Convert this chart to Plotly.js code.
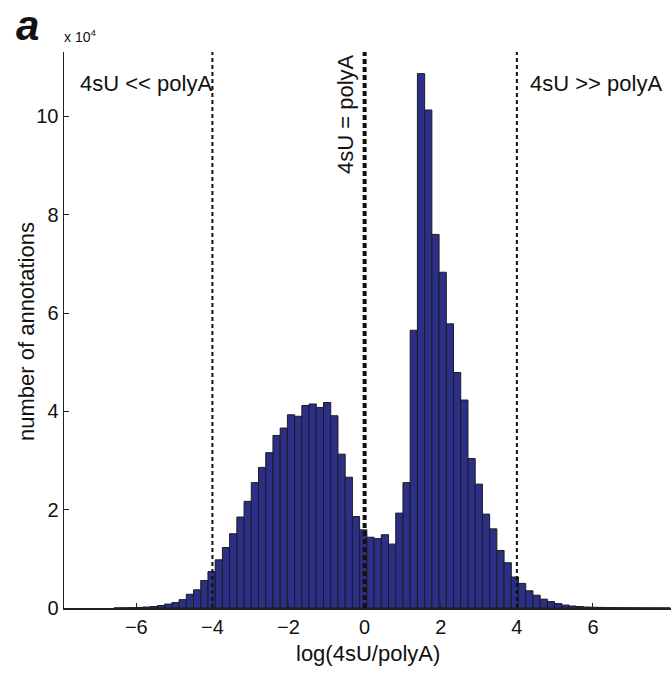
<!DOCTYPE html>
<html>
<head>
<meta charset="utf-8">
<script src="https://cdn.plot.ly/plotly-3.0.1.min.js"></script>
<style>html,body{margin:0;padding:0;background:#fff;}#chart{width:671px;height:673px;}</style>
</head>
<body>
<div id="chart"></div>
<script>
// Histogram of log(4sU/polyA); counts in units of 10^4
const firstBinCenter = -6.4895;
const binWidth = 0.18978;
const countsE4 = [
  0.002, 0.004, 0.007, 0.012, 0.02, 0.03, 0.05, 0.08, 0.11, 0.17, 0.28, 0.37, 0.56, 0.74, 0.98, 1.23,
  1.51, 1.85, 2.17, 2.55, 2.86, 3.16, 3.51, 3.66, 3.93, 3.90, 4.12, 4.15, 4.08, 4.18, 3.91, 3.13,
  2.66, 1.86, 1.59, 1.44, 1.41, 1.49, 1.30, 1.93, 2.55, 5.65, 10.87, 10.13, 7.60, 6.83, 5.78, 4.79,
  4.23, 3.04, 2.52, 1.91, 1.61, 1.17, 0.92, 0.63, 0.50, 0.35, 0.26, 0.18, 0.13, 0.09, 0.06, 0.04,
  0.03, 0.02, 0.015, 0.012, 0.01, 0.008, 0.006, 0.005, 0.004, 0.003, 0.003, 0.002, 0.002
];
const xTicks = [-6, -4, -2, 0, 2, 4, 6];
const yTicks = [0, 2, 4, 6, 8, 10];
const thresholdLines = [-4, 0, 4];
const regionLabels = ["4sU << polyA", "4sU = polyA", "4sU >> polyA"];

const FONT = "Liberation Sans, Arial, Helvetica, sans-serif";
const L = 64, W = 607, T = 52, H = 556;
const px = v => (v - L) / W;      // pixel -> paper x
const py = v => (T + H - v) / H;  // pixel -> paper y

const trace = {
  type: "bar",
  x0: firstBinCenter,
  dx: binWidth,
  y: countsE4,
  marker: { color: "#2b2f87", line: { color: "#1c1c1c", width: 1 } },
  hoverinfo: "skip"
};

const shapes = thresholdLines.map(v => ({
  type: "line", xref: "x", yref: "paper", x0: v, x1: v, y0: 0, y1: 1,
  line: { color: "#111", width: v === 0 ? 4 : 2, dash: v === 0 ? "5px,3px" : "4px,3px" }
}));

const layout = {
  width: 671, height: 673,
  margin: { l: L, r: 0, t: T, b: 673 - T - H },
  paper_bgcolor: "#fff", plot_bgcolor: "#fff",
  showlegend: false,
  bargap: 0,
  font: { family: FONT, size: 20, color: "#111" },
  xaxis: {
    range: [-7.9, 8.05], tickvals: xTicks, ticktext: xTicks.map(t => t < 0 ? "\u2212" + Math.abs(t) : String(t)),
    ticks: "inside", ticklen: 5, tickcolor: "#222", showline: true, linecolor: "#222", linewidth: 1.5,
    showgrid: false, zeroline: false, tickfont: { size: 20 }
  },
  yaxis: {
    range: [0, 11.31], tickvals: yTicks, ticktext: yTicks.map(String),
    ticks: "inside", ticklen: 5, tickcolor: "#222", showline: true, linecolor: "#222", linewidth: 1.5,
    showgrid: false, zeroline: false, tickfont: { size: 20 }
  },
  shapes: shapes,
  annotations: [
    { text: "<b><i>a</i></b>", xref: "paper", yref: "paper", x: px(14), y: py(25), xanchor: "left", yanchor: "middle",
      showarrow: false, font: { size: 42, family: FONT, color: "#111" } },
    { text: "x 10<sup>4</sup>", xref: "paper", yref: "paper", x: px(62), y: py(36), xanchor: "left", yanchor: "middle",
      showarrow: false, font: { size: 14, family: FONT, color: "#111" } },
    { text: regionLabels[0], xref: "paper", yref: "paper", x: px(78), y: py(84), xanchor: "left", yanchor: "middle",
      showarrow: false, font: { size: 22, family: FONT, color: "#111" } },
    { text: regionLabels[1], xref: "paper", yref: "paper", x: px(346), y: py(114), xanchor: "center", yanchor: "middle",
      textangle: -90, showarrow: false, font: { size: 22, family: FONT, color: "#111" } },
    { text: regionLabels[2], xref: "paper", yref: "paper", x: px(528), y: py(84), xanchor: "left", yanchor: "middle",
      showarrow: false, font: { size: 22, family: FONT, color: "#111" } },
    { text: "log(4sU/polyA)", xref: "paper", yref: "paper", x: px(368), y: py(653), xanchor: "center", yanchor: "middle",
      showarrow: false, font: { size: 22, family: FONT, color: "#111" } },
    { text: "number of annotations", xref: "paper", yref: "paper", x: px(26), y: py(332), xanchor: "center", yanchor: "middle",
      textangle: -90, showarrow: false, font: { size: 22, family: FONT, color: "#111" } }
  ]
};

Plotly.newPlot("chart", [trace], layout, { staticPlot: true, displayModeBar: false });
</script>
</body>
</html>
